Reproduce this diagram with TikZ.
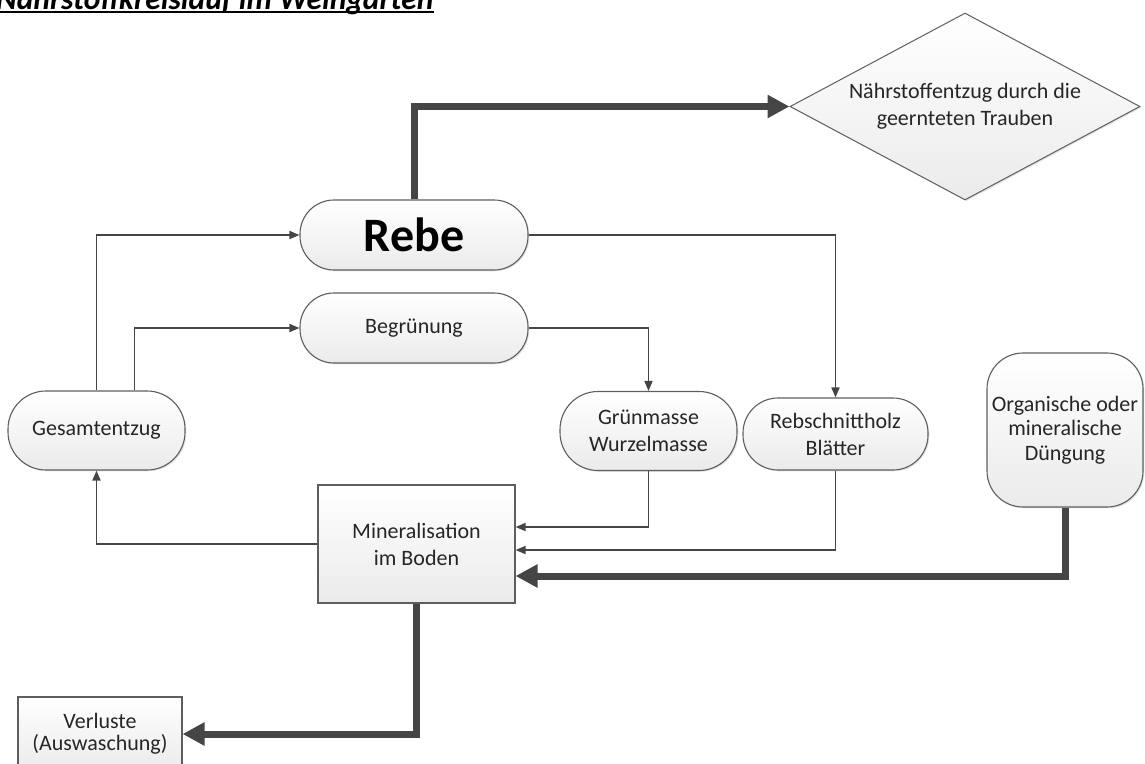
\documentclass[tikz,border=0pt]{standalone}
\usepackage{fontspec}
\setmainfont{Carlito}
\usetikzlibrary{arrows.meta,shapes.geometric,shadows}
\definecolor{edge}{HTML}{5E5E5E}
\definecolor{link}{HTML}{454545}
\definecolor{ink}{HTML}{262626}
\tikzset{
  box/.style={draw=edge, line width=1.1pt, top color=white, bottom color=black!8,
    text=ink, align=center, font=\fontsize{22}{27}\selectfont, inner sep=0pt,
    drop shadow={shadow xshift=1.3pt, shadow yshift=-1.3pt, opacity=0.22}},
  pill/.style={box, rounded corners=#1},
  thinflow/.style={draw=link, line width=1.7pt, -{Triangle[length=10pt,width=8pt]}},
  heavyflow/.style={draw=link, line width=7pt, -{Triangle[length=22pt,width=22pt]}},
}
\begin{document}
\begin{tikzpicture}[x=1pt,y=-1pt]
\useasboundingbox (0,0) rectangle (1145,763);
\clip (0,0) rectangle (1145,763);

% heading, running off the top edge of the page
\node[anchor=base west, inner sep=0pt, text=black,
      font=\fontsize{31.5}{36}\selectfont\bfseries\itshape] (title) at (-4,9)
      {Nährstoffkreislauf im Weingarten};
\draw[line width=2pt] ([yshift=-3pt]title.base west) -- ([yshift=-3pt]title.base east);

% nodes
\node[pill=34pt, minimum width=228pt, minimum height=70pt,
      font=\fontsize{48}{52}\selectfont\bfseries, text=black] (rebe) at (414,235) {Rebe};
\node[pill=34pt, minimum width=228pt, minimum height=70pt] (begr) at (414,328) {Begrünung};
\node[pill=38pt, minimum width=177pt, minimum height=79pt] (gesamt) at (96.5,430.5) {Gesamtentzug};
\node[pill=38pt, minimum width=177pt, minimum height=79pt] (gruen) at (648.5,431) {Grünmasse\\Wurzelmasse};
\node[pill=35pt, minimum width=185pt, minimum height=72pt] (rebsch) at (835.5,434) {Rebschnittholz\\Blätter};
\node[pill=36pt, minimum width=156pt, minimum height=154pt,
      font=\fontsize{22}{24.5}\selectfont] (dueng) at (1065,430)
      {Organische oder\\mineralische\\Düngung};
\node[box, rectangle, minimum width=197pt, minimum height=118pt] (mineral) at (416.5,544)
      {Mineralisation\\im Boden};
\node[box, rectangle, minimum width=164pt, minimum height=74pt,
      font=\fontsize{22}{22}\selectfont] (verl) at (100,734) {Verluste\\(Auswaschung)};
\node[box, diamond, minimum width=350pt, minimum height=187pt, aspect=1.87,
      line width=1pt] (harvest) at (965,106.5)
      {Nährstoffentzug durch die\\geernteten Trauben};

% flows
\draw[heavyflow] (rebe.north) |- (harvest.west);
\draw[thinflow] (gesamt.north) |- (rebe.west);
\draw[thinflow] ([xshift=38pt]gesamt.north) |- (begr.west);
\draw[thinflow] (rebe.east) -| (rebsch.north);
\draw[thinflow] (begr.east) -| (gruen.north);
\draw[thinflow] (gruen.south) |- ([yshift=17pt]mineral.east);
\draw[thinflow] (rebsch.south) |- ([yshift=-6pt]mineral.east);
\draw[heavyflow] (dueng.south) |- ([yshift=-32pt]mineral.east);
\draw[thinflow] (mineral.west) -| (gesamt.south);
\draw[heavyflow] (mineral.south) |- (verl.east);
\end{tikzpicture}
\end{document}
